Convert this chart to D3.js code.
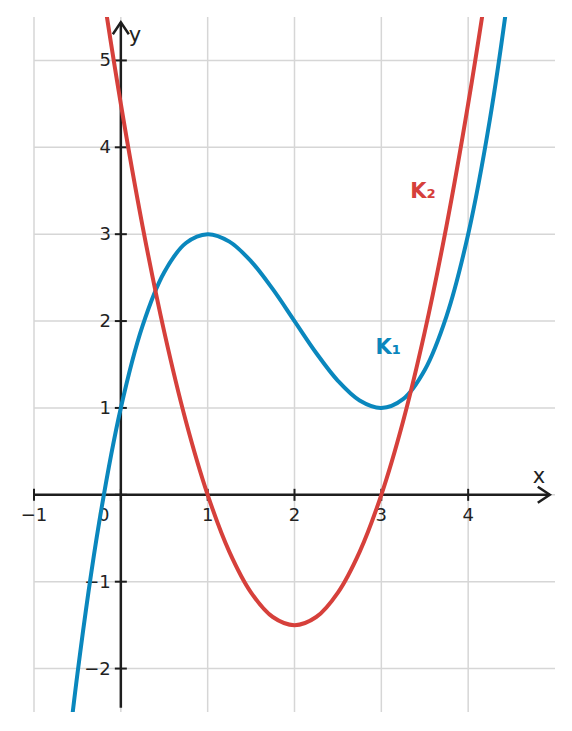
<!DOCTYPE html>
<html><head><meta charset="utf-8">
<script src="https://cdn.jsdelivr.net/npm/d3@7"></script>
<style>body{margin:0;background:#fff}svg{display:block;font-family:"DejaVu Sans",sans-serif}</style>
</head><body><svg id="c" width="572" height="731"></svg>
<script>
const xTicks = [-1, 0, 1, 2, 3, 4];
const yTicks = [-2, -1, 1, 2, 3, 4, 5];
const xGrid = [-1, 0, 1, 2, 3, 4];
const yGrid = [-2, -1, 0, 1, 2, 3, 4, 5];
// K1 points (x, y)
const k1X = [-0.75,-0.5,-0.25,0,0.25,0.5,0.75,1,1.25,1.5,1.75,2,2.25,2.5,2.75,3,3.25,3.5,3.75,4,4.25,4.5,4.75];
const k1Y = [-4.273,-2.0625,-0.3203,1,1.9453,2.5625,2.8984,3,2.9141,2.6875,2.3672,2,1.6328,1.3125,1.0859,1,1.1016,1.4375,2.0547,3,4.3203,6.0625,8.273];
// K2 points (x, y)
const k2X = [-0.5,-0.25,0,0.25,0.5,0.75,1,1.25,1.5,1.75,2,2.25,2.5,2.75,3,3.25,3.5,3.75,4,4.25,4.5];
const k2Y = [7.875,6.0938,4.5,3.0938,1.875,0.8438,0,-0.6563,-1.125,-1.4063,-1.5,-1.4063,-1.125,-0.6563,0,0.8438,1.875,3.0938,4.5,6.0938,7.875];
const labels = [{t:"K₁", x:3.08, y:1.69, c:"#0a87bd"}, {t:"K₂", x:3.48, y:3.48, c:"#d6403b"}];

const svg = d3.select("#c");
const x = d3.scaleLinear().domain([-1, 5]).range([34, 555]);
const y = d3.scaleLinear().domain([-2.5, 5.5]).range([712, 17]);

// grid
svg.append("g").selectAll("line").data(xGrid).join("line")
  .attr("x1", d => x(d)).attr("x2", d => x(d)).attr("y1", y(5.5)).attr("y2", y(-2.5))
  .attr("stroke", "#d6d6d6").attr("stroke-width", 1.5);
svg.append("g").selectAll("line").data(yGrid).join("line")
  .attr("y1", d => y(d)).attr("y2", d => y(d)).attr("x1", x(-1)).attr("x2", x(5))
  .attr("stroke", "#d6d6d6").attr("stroke-width", 1.5);

// axes
const ax = svg.append("g").attr("stroke", "#1e1e1e").attr("stroke-width", 2.5).attr("fill", "none");
ax.append("line").attr("x1", x(-1)).attr("x2", x(4.94)).attr("y1", y(0)).attr("y2", y(0));
ax.append("line").attr("x1", x(0)).attr("x2", x(0)).attr("y1", y(-2.45)).attr("y2", y(5.44));
ax.append("path").attr("d", `M${x(4.94)-12},${y(0)-8}L${x(4.94)},${y(0)}L${x(4.94)-12},${y(0)+8}`);
ax.append("path").attr("d", `M${x(0)-8},${y(5.44)+12}L${x(0)},${y(5.44)}L${x(0)+8},${y(5.44)+12}`);
ax.selectAll(".tx").data(xTicks).join("line")
  .attr("x1", d => x(d)).attr("x2", d => x(d)).attr("y1", y(0)-6).attr("y2", y(0)+6).attr("stroke-width", 2);
ax.selectAll(".ty").data(yTicks.concat([0])).join("line")
  .attr("y1", d => y(d)).attr("y2", d => y(d)).attr("x1", x(0)-6).attr("x2", x(0)+6).attr("stroke-width", 2);

const tl = svg.append("g").attr("fill", "#222").attr("font-size", 18);
tl.selectAll(".lx").data(xTicks).join("text")
  .attr("x", d => d === 0 ? x(d) - 17 : x(d)).attr("y", y(0) + 26)
  .attr("text-anchor", "middle").text(d => d < 0 ? "−" + (-d) : d);
tl.selectAll(".ly").data(yTicks).join("text")
  .attr("x", x(0) - 10).attr("y", d => y(d) + 6)
  .attr("text-anchor", "end").text(d => d < 0 ? "−" + (-d) : d);
tl.append("text").attr("x", x(0) + 8).attr("y", y(5.44) + 20).attr("font-size", 21).text("y");
tl.append("text").attr("x", x(4.94) - 17).attr("y", y(0) - 12).attr("font-size", 21).text("x");

// curves
svg.append("clipPath").attr("id", "pc").append("rect")
  .attr("x", x(-1)).attr("y", y(5.5)).attr("width", x(5) - x(-1)).attr("height", y(-2.5) - y(5.5));
const line = d3.line().x(d => x(d[0])).y(d => y(d[1])).curve(d3.curveCatmullRom.alpha(0.5));
const k1 = k1X.map((v, i) => [v, k1Y[i]]);
const k2 = k2X.map((v, i) => [v, k2Y[i]]);
const cg = svg.append("g").attr("clip-path", "url(#pc)").attr("fill", "none").attr("stroke-width", 4);
cg.append("path").attr("d", line(k1)).attr("stroke", "#0a87bd");
cg.append("path").attr("d", line(k2)).attr("stroke", "#d6403b");

svg.append("g").selectAll("text").data(labels).join("text")
  .attr("x", d => x(d.x)).attr("y", d => y(d.y))
  .attr("fill", d => d.c).attr("font-weight", "bold").attr("font-size", 21)
  .attr("text-anchor", "middle").attr("dominant-baseline", "middle").text(d => d.t);
</script></body></html>
